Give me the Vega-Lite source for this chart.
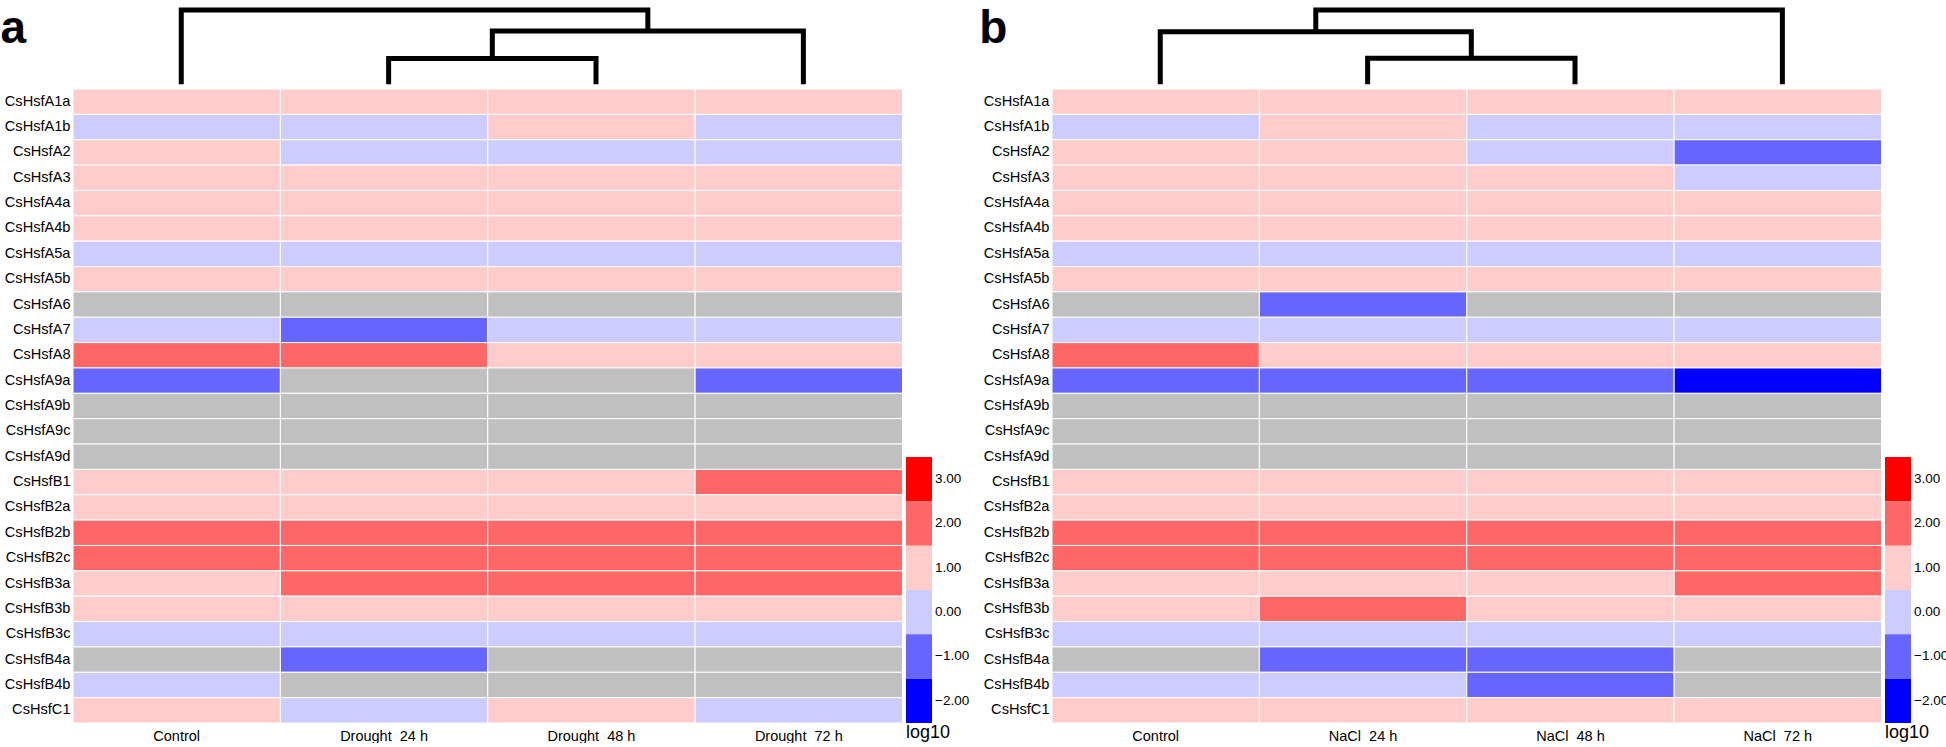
{
  "$schema": "https://vega.github.io/schema/vega-lite/v6.json",
  "padding": 0,
  "bounds": "flush",
  "align": "each",
  "columns": 4,
  "spacing": {"row": 4, "column": 3},
  "background": "#ffffff",
  "config": {
    "view": {"stroke": null},
    "font": "Liberation Sans",
    "axis": {"labelFont": "Liberation Sans", "titleFont": "Liberation Sans", "labelColor": "#000000", "titleColor": "#000000"},
    "text": {"font": "Liberation Sans"},
    "title": {"font": "Liberation Sans", "color": "#000000"}
  },
  "resolve": {"scale": {"x": "independent", "y": "independent", "color": "independent"}},
  "datasets": {
    "dendA": [
      {"link": "m1", "step": 1, "pos": 1, "h": 0},
      {"link": "m1", "step": 2, "pos": 1, "h": 0.347},
      {"link": "m1", "step": 3, "pos": 2, "h": 0.347},
      {"link": "m1", "step": 4, "pos": 2, "h": 0},
      {"link": "m2", "step": 1, "pos": 1.5, "h": 0.347},
      {"link": "m2", "step": 2, "pos": 1.5, "h": 0.717},
      {"link": "m2", "step": 3, "pos": 3, "h": 0.717},
      {"link": "m2", "step": 4, "pos": 3, "h": 0},
      {"link": "root", "step": 1, "pos": 0, "h": 0},
      {"link": "root", "step": 2, "pos": 0, "h": 1},
      {"link": "root", "step": 3, "pos": 2.25, "h": 1},
      {"link": "root", "step": 4, "pos": 2.25, "h": 0.717}
    ],
    "dendB": [
      {"link": "m1", "step": 1, "pos": 1, "h": 0},
      {"link": "m1", "step": 2, "pos": 1, "h": 0.35},
      {"link": "m1", "step": 3, "pos": 2, "h": 0.35},
      {"link": "m1", "step": 4, "pos": 2, "h": 0},
      {"link": "m2", "step": 1, "pos": 0, "h": 0},
      {"link": "m2", "step": 2, "pos": 0, "h": 0.708},
      {"link": "m2", "step": 3, "pos": 1.5, "h": 0.708},
      {"link": "m2", "step": 4, "pos": 1.5, "h": 0.35},
      {"link": "root", "step": 1, "pos": 0.75, "h": 0.708},
      {"link": "root", "step": 2, "pos": 0.75, "h": 1},
      {"link": "root", "step": 3, "pos": 3, "h": 1},
      {"link": "root", "step": 4, "pos": 3, "h": 0}
    ],
    "scale": [
      {"v": 3, "lo": 2.5, "hi": 3.5},
      {"v": 2, "lo": 1.5, "hi": 2.5},
      {"v": 1, "lo": 0.5, "hi": 1.5},
      {"v": 0, "lo": -0.5, "hi": 0.5},
      {"v": -1, "lo": -1.5, "hi": -0.5},
      {"v": -2, "lo": -2.5, "hi": -1.5}
    ],
    "heatA": [
      {"gene": "CsHsfA1a", "cond": "Control", "v": 1}, {"gene": "CsHsfA1a", "cond": "Drought_24 h", "v": 1}, {"gene": "CsHsfA1a", "cond": "Drought_48 h", "v": 1}, {"gene": "CsHsfA1a", "cond": "Drought_72 h", "v": 1},
      {"gene": "CsHsfA1b", "cond": "Control", "v": 0}, {"gene": "CsHsfA1b", "cond": "Drought_24 h", "v": 0}, {"gene": "CsHsfA1b", "cond": "Drought_48 h", "v": 1}, {"gene": "CsHsfA1b", "cond": "Drought_72 h", "v": 0},
      {"gene": "CsHsfA2", "cond": "Control", "v": 1}, {"gene": "CsHsfA2", "cond": "Drought_24 h", "v": 0}, {"gene": "CsHsfA2", "cond": "Drought_48 h", "v": 0}, {"gene": "CsHsfA2", "cond": "Drought_72 h", "v": 0},
      {"gene": "CsHsfA3", "cond": "Control", "v": 1}, {"gene": "CsHsfA3", "cond": "Drought_24 h", "v": 1}, {"gene": "CsHsfA3", "cond": "Drought_48 h", "v": 1}, {"gene": "CsHsfA3", "cond": "Drought_72 h", "v": 1},
      {"gene": "CsHsfA4a", "cond": "Control", "v": 1}, {"gene": "CsHsfA4a", "cond": "Drought_24 h", "v": 1}, {"gene": "CsHsfA4a", "cond": "Drought_48 h", "v": 1}, {"gene": "CsHsfA4a", "cond": "Drought_72 h", "v": 1},
      {"gene": "CsHsfA4b", "cond": "Control", "v": 1}, {"gene": "CsHsfA4b", "cond": "Drought_24 h", "v": 1}, {"gene": "CsHsfA4b", "cond": "Drought_48 h", "v": 1}, {"gene": "CsHsfA4b", "cond": "Drought_72 h", "v": 1},
      {"gene": "CsHsfA5a", "cond": "Control", "v": 0}, {"gene": "CsHsfA5a", "cond": "Drought_24 h", "v": 0}, {"gene": "CsHsfA5a", "cond": "Drought_48 h", "v": 0}, {"gene": "CsHsfA5a", "cond": "Drought_72 h", "v": 0},
      {"gene": "CsHsfA5b", "cond": "Control", "v": 1}, {"gene": "CsHsfA5b", "cond": "Drought_24 h", "v": 1}, {"gene": "CsHsfA5b", "cond": "Drought_48 h", "v": 1}, {"gene": "CsHsfA5b", "cond": "Drought_72 h", "v": 1},
      {"gene": "CsHsfA6", "cond": "Control", "v": null}, {"gene": "CsHsfA6", "cond": "Drought_24 h", "v": null}, {"gene": "CsHsfA6", "cond": "Drought_48 h", "v": null}, {"gene": "CsHsfA6", "cond": "Drought_72 h", "v": null},
      {"gene": "CsHsfA7", "cond": "Control", "v": 0}, {"gene": "CsHsfA7", "cond": "Drought_24 h", "v": -1}, {"gene": "CsHsfA7", "cond": "Drought_48 h", "v": 0}, {"gene": "CsHsfA7", "cond": "Drought_72 h", "v": 0},
      {"gene": "CsHsfA8", "cond": "Control", "v": 2}, {"gene": "CsHsfA8", "cond": "Drought_24 h", "v": 2}, {"gene": "CsHsfA8", "cond": "Drought_48 h", "v": 1}, {"gene": "CsHsfA8", "cond": "Drought_72 h", "v": 1},
      {"gene": "CsHsfA9a", "cond": "Control", "v": -1}, {"gene": "CsHsfA9a", "cond": "Drought_24 h", "v": null}, {"gene": "CsHsfA9a", "cond": "Drought_48 h", "v": null}, {"gene": "CsHsfA9a", "cond": "Drought_72 h", "v": -1},
      {"gene": "CsHsfA9b", "cond": "Control", "v": null}, {"gene": "CsHsfA9b", "cond": "Drought_24 h", "v": null}, {"gene": "CsHsfA9b", "cond": "Drought_48 h", "v": null}, {"gene": "CsHsfA9b", "cond": "Drought_72 h", "v": null},
      {"gene": "CsHsfA9c", "cond": "Control", "v": null}, {"gene": "CsHsfA9c", "cond": "Drought_24 h", "v": null}, {"gene": "CsHsfA9c", "cond": "Drought_48 h", "v": null}, {"gene": "CsHsfA9c", "cond": "Drought_72 h", "v": null},
      {"gene": "CsHsfA9d", "cond": "Control", "v": null}, {"gene": "CsHsfA9d", "cond": "Drought_24 h", "v": null}, {"gene": "CsHsfA9d", "cond": "Drought_48 h", "v": null}, {"gene": "CsHsfA9d", "cond": "Drought_72 h", "v": null},
      {"gene": "CsHsfB1", "cond": "Control", "v": 1}, {"gene": "CsHsfB1", "cond": "Drought_24 h", "v": 1}, {"gene": "CsHsfB1", "cond": "Drought_48 h", "v": 1}, {"gene": "CsHsfB1", "cond": "Drought_72 h", "v": 2},
      {"gene": "CsHsfB2a", "cond": "Control", "v": 1}, {"gene": "CsHsfB2a", "cond": "Drought_24 h", "v": 1}, {"gene": "CsHsfB2a", "cond": "Drought_48 h", "v": 1}, {"gene": "CsHsfB2a", "cond": "Drought_72 h", "v": 1},
      {"gene": "CsHsfB2b", "cond": "Control", "v": 2}, {"gene": "CsHsfB2b", "cond": "Drought_24 h", "v": 2}, {"gene": "CsHsfB2b", "cond": "Drought_48 h", "v": 2}, {"gene": "CsHsfB2b", "cond": "Drought_72 h", "v": 2},
      {"gene": "CsHsfB2c", "cond": "Control", "v": 2}, {"gene": "CsHsfB2c", "cond": "Drought_24 h", "v": 2}, {"gene": "CsHsfB2c", "cond": "Drought_48 h", "v": 2}, {"gene": "CsHsfB2c", "cond": "Drought_72 h", "v": 2},
      {"gene": "CsHsfB3a", "cond": "Control", "v": 1}, {"gene": "CsHsfB3a", "cond": "Drought_24 h", "v": 2}, {"gene": "CsHsfB3a", "cond": "Drought_48 h", "v": 2}, {"gene": "CsHsfB3a", "cond": "Drought_72 h", "v": 2},
      {"gene": "CsHsfB3b", "cond": "Control", "v": 1}, {"gene": "CsHsfB3b", "cond": "Drought_24 h", "v": 1}, {"gene": "CsHsfB3b", "cond": "Drought_48 h", "v": 1}, {"gene": "CsHsfB3b", "cond": "Drought_72 h", "v": 1},
      {"gene": "CsHsfB3c", "cond": "Control", "v": 0}, {"gene": "CsHsfB3c", "cond": "Drought_24 h", "v": 0}, {"gene": "CsHsfB3c", "cond": "Drought_48 h", "v": 0}, {"gene": "CsHsfB3c", "cond": "Drought_72 h", "v": 0},
      {"gene": "CsHsfB4a", "cond": "Control", "v": null}, {"gene": "CsHsfB4a", "cond": "Drought_24 h", "v": -1}, {"gene": "CsHsfB4a", "cond": "Drought_48 h", "v": null}, {"gene": "CsHsfB4a", "cond": "Drought_72 h", "v": null},
      {"gene": "CsHsfB4b", "cond": "Control", "v": 0}, {"gene": "CsHsfB4b", "cond": "Drought_24 h", "v": null}, {"gene": "CsHsfB4b", "cond": "Drought_48 h", "v": null}, {"gene": "CsHsfB4b", "cond": "Drought_72 h", "v": null},
      {"gene": "CsHsfC1", "cond": "Control", "v": 1}, {"gene": "CsHsfC1", "cond": "Drought_24 h", "v": 0}, {"gene": "CsHsfC1", "cond": "Drought_48 h", "v": 1}, {"gene": "CsHsfC1", "cond": "Drought_72 h", "v": 0}
    ],
    "heatB": [
      {"gene": "CsHsfA1a", "cond": "Control", "v": 1}, {"gene": "CsHsfA1a", "cond": "NaCl_24 h", "v": 1}, {"gene": "CsHsfA1a", "cond": "NaCl_48 h", "v": 1}, {"gene": "CsHsfA1a", "cond": "NaCl_72 h", "v": 1},
      {"gene": "CsHsfA1b", "cond": "Control", "v": 0}, {"gene": "CsHsfA1b", "cond": "NaCl_24 h", "v": 1}, {"gene": "CsHsfA1b", "cond": "NaCl_48 h", "v": 0}, {"gene": "CsHsfA1b", "cond": "NaCl_72 h", "v": 0},
      {"gene": "CsHsfA2", "cond": "Control", "v": 1}, {"gene": "CsHsfA2", "cond": "NaCl_24 h", "v": 1}, {"gene": "CsHsfA2", "cond": "NaCl_48 h", "v": 0}, {"gene": "CsHsfA2", "cond": "NaCl_72 h", "v": -1},
      {"gene": "CsHsfA3", "cond": "Control", "v": 1}, {"gene": "CsHsfA3", "cond": "NaCl_24 h", "v": 1}, {"gene": "CsHsfA3", "cond": "NaCl_48 h", "v": 1}, {"gene": "CsHsfA3", "cond": "NaCl_72 h", "v": 0},
      {"gene": "CsHsfA4a", "cond": "Control", "v": 1}, {"gene": "CsHsfA4a", "cond": "NaCl_24 h", "v": 1}, {"gene": "CsHsfA4a", "cond": "NaCl_48 h", "v": 1}, {"gene": "CsHsfA4a", "cond": "NaCl_72 h", "v": 1},
      {"gene": "CsHsfA4b", "cond": "Control", "v": 1}, {"gene": "CsHsfA4b", "cond": "NaCl_24 h", "v": 1}, {"gene": "CsHsfA4b", "cond": "NaCl_48 h", "v": 1}, {"gene": "CsHsfA4b", "cond": "NaCl_72 h", "v": 1},
      {"gene": "CsHsfA5a", "cond": "Control", "v": 0}, {"gene": "CsHsfA5a", "cond": "NaCl_24 h", "v": 0}, {"gene": "CsHsfA5a", "cond": "NaCl_48 h", "v": 0}, {"gene": "CsHsfA5a", "cond": "NaCl_72 h", "v": 0},
      {"gene": "CsHsfA5b", "cond": "Control", "v": 1}, {"gene": "CsHsfA5b", "cond": "NaCl_24 h", "v": 1}, {"gene": "CsHsfA5b", "cond": "NaCl_48 h", "v": 1}, {"gene": "CsHsfA5b", "cond": "NaCl_72 h", "v": 1},
      {"gene": "CsHsfA6", "cond": "Control", "v": null}, {"gene": "CsHsfA6", "cond": "NaCl_24 h", "v": -1}, {"gene": "CsHsfA6", "cond": "NaCl_48 h", "v": null}, {"gene": "CsHsfA6", "cond": "NaCl_72 h", "v": null},
      {"gene": "CsHsfA7", "cond": "Control", "v": 0}, {"gene": "CsHsfA7", "cond": "NaCl_24 h", "v": 0}, {"gene": "CsHsfA7", "cond": "NaCl_48 h", "v": 0}, {"gene": "CsHsfA7", "cond": "NaCl_72 h", "v": 0},
      {"gene": "CsHsfA8", "cond": "Control", "v": 2}, {"gene": "CsHsfA8", "cond": "NaCl_24 h", "v": 1}, {"gene": "CsHsfA8", "cond": "NaCl_48 h", "v": 1}, {"gene": "CsHsfA8", "cond": "NaCl_72 h", "v": 1},
      {"gene": "CsHsfA9a", "cond": "Control", "v": -1}, {"gene": "CsHsfA9a", "cond": "NaCl_24 h", "v": -1}, {"gene": "CsHsfA9a", "cond": "NaCl_48 h", "v": -1}, {"gene": "CsHsfA9a", "cond": "NaCl_72 h", "v": -2},
      {"gene": "CsHsfA9b", "cond": "Control", "v": null}, {"gene": "CsHsfA9b", "cond": "NaCl_24 h", "v": null}, {"gene": "CsHsfA9b", "cond": "NaCl_48 h", "v": null}, {"gene": "CsHsfA9b", "cond": "NaCl_72 h", "v": null},
      {"gene": "CsHsfA9c", "cond": "Control", "v": null}, {"gene": "CsHsfA9c", "cond": "NaCl_24 h", "v": null}, {"gene": "CsHsfA9c", "cond": "NaCl_48 h", "v": null}, {"gene": "CsHsfA9c", "cond": "NaCl_72 h", "v": null},
      {"gene": "CsHsfA9d", "cond": "Control", "v": null}, {"gene": "CsHsfA9d", "cond": "NaCl_24 h", "v": null}, {"gene": "CsHsfA9d", "cond": "NaCl_48 h", "v": null}, {"gene": "CsHsfA9d", "cond": "NaCl_72 h", "v": null},
      {"gene": "CsHsfB1", "cond": "Control", "v": 1}, {"gene": "CsHsfB1", "cond": "NaCl_24 h", "v": 1}, {"gene": "CsHsfB1", "cond": "NaCl_48 h", "v": 1}, {"gene": "CsHsfB1", "cond": "NaCl_72 h", "v": 1},
      {"gene": "CsHsfB2a", "cond": "Control", "v": 1}, {"gene": "CsHsfB2a", "cond": "NaCl_24 h", "v": 1}, {"gene": "CsHsfB2a", "cond": "NaCl_48 h", "v": 1}, {"gene": "CsHsfB2a", "cond": "NaCl_72 h", "v": 1},
      {"gene": "CsHsfB2b", "cond": "Control", "v": 2}, {"gene": "CsHsfB2b", "cond": "NaCl_24 h", "v": 2}, {"gene": "CsHsfB2b", "cond": "NaCl_48 h", "v": 2}, {"gene": "CsHsfB2b", "cond": "NaCl_72 h", "v": 2},
      {"gene": "CsHsfB2c", "cond": "Control", "v": 2}, {"gene": "CsHsfB2c", "cond": "NaCl_24 h", "v": 2}, {"gene": "CsHsfB2c", "cond": "NaCl_48 h", "v": 2}, {"gene": "CsHsfB2c", "cond": "NaCl_72 h", "v": 2},
      {"gene": "CsHsfB3a", "cond": "Control", "v": 1}, {"gene": "CsHsfB3a", "cond": "NaCl_24 h", "v": 1}, {"gene": "CsHsfB3a", "cond": "NaCl_48 h", "v": 1}, {"gene": "CsHsfB3a", "cond": "NaCl_72 h", "v": 2},
      {"gene": "CsHsfB3b", "cond": "Control", "v": 1}, {"gene": "CsHsfB3b", "cond": "NaCl_24 h", "v": 2}, {"gene": "CsHsfB3b", "cond": "NaCl_48 h", "v": 1}, {"gene": "CsHsfB3b", "cond": "NaCl_72 h", "v": 1},
      {"gene": "CsHsfB3c", "cond": "Control", "v": 0}, {"gene": "CsHsfB3c", "cond": "NaCl_24 h", "v": 0}, {"gene": "CsHsfB3c", "cond": "NaCl_48 h", "v": 0}, {"gene": "CsHsfB3c", "cond": "NaCl_72 h", "v": 0},
      {"gene": "CsHsfB4a", "cond": "Control", "v": null}, {"gene": "CsHsfB4a", "cond": "NaCl_24 h", "v": -1}, {"gene": "CsHsfB4a", "cond": "NaCl_48 h", "v": -1}, {"gene": "CsHsfB4a", "cond": "NaCl_72 h", "v": null},
      {"gene": "CsHsfB4b", "cond": "Control", "v": 0}, {"gene": "CsHsfB4b", "cond": "NaCl_24 h", "v": 0}, {"gene": "CsHsfB4b", "cond": "NaCl_48 h", "v": -1}, {"gene": "CsHsfB4b", "cond": "NaCl_72 h", "v": null},
      {"gene": "CsHsfC1", "cond": "Control", "v": 1}, {"gene": "CsHsfC1", "cond": "NaCl_24 h", "v": 1}, {"gene": "CsHsfC1", "cond": "NaCl_48 h", "v": 1}, {"gene": "CsHsfC1", "cond": "NaCl_72 h", "v": 1}
    ]
  },
  "concat": [
    {
      "width": 829.5, "height": 74.3,
      "data": {"name": "dendA"},
      "mark": {"type": "line", "color": "#000000", "strokeWidth": 5, "strokeCap": "butt", "strokeJoin": "miter"},
      "encoding": {
        "x": {"field": "pos", "type": "quantitative", "scale": {"domain": [-0.522, 3.478], "nice": false, "zero": false}, "axis": null},
        "y": {"field": "h", "type": "quantitative", "scale": {"domain": [0, 1], "nice": false, "zero": false},
              "axis": {"title": "a", "titleAngle": 0, "titleFontSize": 46, "titleFontWeight": "bold", "titleAlign": "left", "titleBaseline": "alphabetic", "titleX": -73, "titleY": 32, "labels": false, "ticks": false, "domain": false, "grid": false}},
        "detail": {"field": "link", "type": "nominal"},
        "order": {"field": "step", "type": "quantitative"}
      }
    },
    {
      "width": 20, "height": 10,
      "data": {"values": [{"k": 1}]},
      "mark": {"type": "point", "opacity": 0},
      "encoding": {}
    },
    {
      "width": 829.5, "height": 74.3,
      "data": {"name": "dendB"},
      "mark": {"type": "line", "color": "#000000", "strokeWidth": 5, "strokeCap": "butt", "strokeJoin": "miter"},
      "encoding": {
        "x": {"field": "pos", "type": "quantitative", "scale": {"domain": [-0.522, 3.478], "nice": false, "zero": false}, "axis": null},
        "y": {"field": "h", "type": "quantitative", "scale": {"domain": [0, 1], "nice": false, "zero": false},
              "axis": {"title": "b", "titleAngle": 0, "titleFontSize": 46, "titleFontWeight": "bold", "titleAlign": "left", "titleBaseline": "alphabetic", "titleX": -73.3, "titleY": 32, "labels": false, "ticks": false, "domain": false, "grid": false}},
        "detail": {"field": "link", "type": "nominal"},
        "order": {"field": "step", "type": "quantitative"}
      }
    },
    {
      "width": 20, "height": 10,
      "data": {"values": [{"k": 1}]},
      "mark": {"type": "point", "opacity": 0},
      "encoding": {}
    },
    {
      "width": 829.5, "height": 634,
      "data": {"name": "heatA"},
      "mark": {"type": "rect", "stroke": "#ffffff", "strokeWidth": 1},
      "encoding": {
        "x": {"field": "cond", "type": "nominal", "scale": {"domain": ["Control", "Drought_24 h", "Drought_48 h", "Drought_72 h"], "paddingInner": 0, "paddingOuter": 0},
              "axis": {"title": null, "domain": false, "ticks": false, "labelAngle": 0, "labelFontSize": 14.5, "labelPadding": 6}},
        "y": {"field": "gene", "type": "nominal", "scale": {"domain": ["CsHsfA1a", "CsHsfA1b", "CsHsfA2", "CsHsfA3", "CsHsfA4a", "CsHsfA4b", "CsHsfA5a", "CsHsfA5b", "CsHsfA6", "CsHsfA7", "CsHsfA8", "CsHsfA9a", "CsHsfA9b", "CsHsfA9c", "CsHsfA9d", "CsHsfB1", "CsHsfB2a", "CsHsfB2b", "CsHsfB2c", "CsHsfB3a", "CsHsfB3b", "CsHsfB3c", "CsHsfB4a", "CsHsfB4b", "CsHsfC1"], "paddingInner": 0, "paddingOuter": 0},
              "axis": {"title": null, "domain": false, "ticks": false, "labelFontSize": 14.6, "labelPadding": 3}},
        "color": {"condition": {"test": "datum.v === null", "value": "#c0c0c0"}, "field": "v", "type": "ordinal",
                  "scale": {"domain": [3, 2, 1, 0, -1, -2], "range": ["#ff0000", "#ff6666", "#ffcccc", "#ccccff", "#6666ff", "#0000ff"]}, "legend": null}
      }
    },
    {
      "width": 143, "height": 634,
      "data": {"name": "scale"},
      "title": {"text": "log10", "orient": "bottom", "anchor": "start", "frame": "group", "fontSize": 18, "fontWeight": "normal", "baseline": "alphabetic", "offset": 15},
      "layer": [
        {
          "mark": {"type": "rect"},
          "encoding": {
            "x": {"datum": 0, "type": "quantitative", "scale": {"domain": [0, 5.5], "nice": false, "zero": false}, "axis": null},
            "x2": {"datum": 1},
            "y": {"field": "lo", "type": "quantitative", "scale": {"domain": [-2.5, 11.8], "nice": false, "zero": false}, "axis": null},
            "y2": {"field": "hi"},
            "color": {"field": "v", "type": "ordinal", "scale": {"domain": [3, 2, 1, 0, -1, -2], "range": ["#ff0000", "#ff6666", "#ffcccc", "#ccccff", "#6666ff", "#0000ff"]}, "legend": null}
          }
        },
        {
          "mark": {"type": "text", "align": "left", "baseline": "middle", "dx": 3, "fontSize": 13.5, "color": "#000000"},
          "encoding": {
            "x": {"datum": 1, "type": "quantitative"},
            "y": {"field": "v", "type": "quantitative"},
            "text": {"field": "v", "type": "quantitative", "format": ".2f"}
          }
        }
      ]
    },
    {
      "width": 829.5, "height": 634,
      "data": {"name": "heatB"},
      "mark": {"type": "rect", "stroke": "#ffffff", "strokeWidth": 1},
      "encoding": {
        "x": {"field": "cond", "type": "nominal", "scale": {"domain": ["Control", "NaCl_24 h", "NaCl_48 h", "NaCl_72 h"], "paddingInner": 0, "paddingOuter": 0},
              "axis": {"title": null, "domain": false, "ticks": false, "labelAngle": 0, "labelFontSize": 14.5, "labelPadding": 6}},
        "y": {"field": "gene", "type": "nominal", "scale": {"domain": ["CsHsfA1a", "CsHsfA1b", "CsHsfA2", "CsHsfA3", "CsHsfA4a", "CsHsfA4b", "CsHsfA5a", "CsHsfA5b", "CsHsfA6", "CsHsfA7", "CsHsfA8", "CsHsfA9a", "CsHsfA9b", "CsHsfA9c", "CsHsfA9d", "CsHsfB1", "CsHsfB2a", "CsHsfB2b", "CsHsfB2c", "CsHsfB3a", "CsHsfB3b", "CsHsfB3c", "CsHsfB4a", "CsHsfB4b", "CsHsfC1"], "paddingInner": 0, "paddingOuter": 0},
              "axis": {"title": null, "domain": false, "ticks": false, "labelFontSize": 14.6, "labelPadding": 3}},
        "color": {"condition": {"test": "datum.v === null", "value": "#c0c0c0"}, "field": "v", "type": "ordinal",
                  "scale": {"domain": [3, 2, 1, 0, -1, -2], "range": ["#ff0000", "#ff6666", "#ffcccc", "#ccccff", "#6666ff", "#0000ff"]}, "legend": null}
      }
    },
    {
      "width": 26, "height": 634,
      "data": {"name": "scale"},
      "title": {"text": "log10", "orient": "bottom", "anchor": "start", "frame": "group", "fontSize": 18, "fontWeight": "normal", "baseline": "alphabetic", "offset": 15},
      "layer": [
        {
          "mark": {"type": "rect"},
          "encoding": {
            "x": {"datum": 0, "type": "quantitative", "scale": {"domain": [0, 1], "nice": false, "zero": false}, "axis": null},
            "x2": {"datum": 1},
            "y": {"field": "lo", "type": "quantitative", "scale": {"domain": [-2.5, 11.8], "nice": false, "zero": false}, "axis": null},
            "y2": {"field": "hi"},
            "color": {"field": "v", "type": "ordinal", "scale": {"domain": [3, 2, 1, 0, -1, -2], "range": ["#ff0000", "#ff6666", "#ffcccc", "#ccccff", "#6666ff", "#0000ff"]}, "legend": null}
          }
        },
        {
          "mark": {"type": "text", "align": "left", "baseline": "middle", "dx": 3, "fontSize": 13.5, "color": "#000000"},
          "encoding": {
            "x": {"datum": 1, "type": "quantitative"},
            "y": {"field": "v", "type": "quantitative"},
            "text": {"field": "v", "type": "quantitative", "format": ".2f"}
          }
        }
      ]
    }
  ]
}
